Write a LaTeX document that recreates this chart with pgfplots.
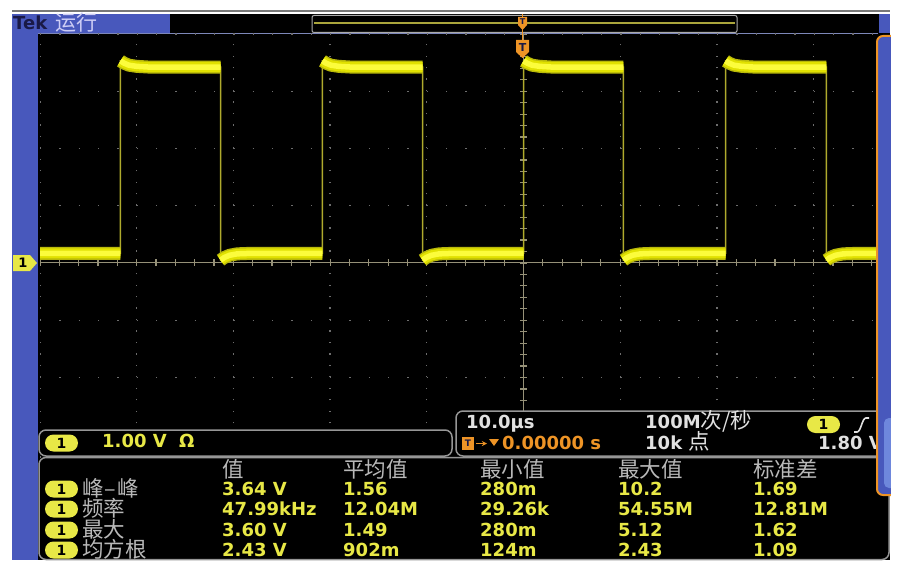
\documentclass[border=0pt]{standalone}
\usepackage{fontspec}
\setmainfont{DejaVu Sans}
\newfontfamily\cjk{Noto Sans CJK SC}
\usepackage{pgfplots}
\pgfplotsset{compat=1.18}
\usepackage{pgfplotstable}

\definecolor{tekyellow}{RGB}{232,232,70}
\definecolor{tekgray}{RGB}{185,185,185}
\definecolor{tekwhite}{RGB}{225,225,225}
\definecolor{tekblue}{RGB}{72,88,188}
\definecolor{teklight}{RGB}{110,135,220}
\definecolor{tekorange}{RGB}{238,148,38}
\definecolor{tekdark}{RGB}{25,25,70}
\definecolor{teklav}{RGB}{205,205,245}
\definecolor{boxgray}{RGB}{150,150,150}
\definecolor{gridgray}{RGB}{110,110,110}
\definecolor{cline}{RGB}{150,145,120}
\definecolor{edgeol}{RGB}{175,170,45}
\definecolor{bandout}{RGB}{185,185,10}
\definecolor{bandmid}{RGB}{225,225,0}
\definecolor{bandcore}{RGB}{252,252,60}

\newcommand\tk{\fontsize{18}{18}\selectfont\bfseries}
\newcommand\ck{\cjk\fontsize{21.5}{21.5}\selectfont\mdseries}
\newcommand\one{\fontsize{14}{14}\selectfont\bfseries\color{black}1}

% square-wave levels (V) vs time (microseconds); nan breaks the bands at the edges
\pgfplotstableread{
t v
-50 0.17
-41.68 0.17
-41.6 nan
-41.68 3.53
-41.30 3.49
-40.80 3.455
-40.00 3.435
-38.50 3.42
-31.33 3.42
-31.3 nan
-31.33 0.05
-30.95 0.095
-30.40 0.135
-29.60 0.16
-28.00 0.17
-20.79 0.17
-20.7 nan
-20.79 3.53
-20.41 3.49
-19.91 3.455
-19.11 3.435
-17.61 3.42
-10.44 3.42
-10.4 nan
-10.44 0.05
-10.06 0.095
-9.51 0.135
-8.71 0.16
-7.11 0.17
0 0.17
0.05 nan
0 3.53
0.38 3.49
0.88 3.455
1.68 3.435
3.18 3.42
10.34 3.42
10.4 nan
10.34 0.05
10.72 0.095
11.27 0.135
12.07 0.16
13.67 0.17
20.89 0.17
20.95 nan
20.89 3.53
21.27 3.49
21.77 3.455
22.57 3.435
24.07 3.42
31.33 3.42
31.4 nan
31.33 0.05
31.71 0.095
32.26 0.135
33.06 0.16
34.66 0.17
36.70 0.17
}\band

\pgfplotstableread{
t v
-50 0.17
-41.68 0.17
-41.68 3.53
-31.33 3.42
-31.33 0.05
-20.79 0.17
-20.79 3.53
-10.44 3.42
-10.44 0.05
0 0.17
0 3.53
10.34 3.42
10.34 0.05
20.89 0.17
20.89 3.53
31.33 3.42
31.33 0.05
36.70 0.17
}\edges

\begin{document}
\begin{tikzpicture}
% ---------- background / frame ----------
\begin{scope}[x=1pt,y=-1pt]
\path[use as bounding box] (0,0) rectangle (899,567);
\fill[white] (0,0) rectangle (899,567);
\fill[black] (12,14) rectangle (890,560);
\draw[color={rgb,255:red,120;green,120;blue,120}, line width=2.5pt] (12,11) -- (890,11);
\fill[tekblue] (12,14) rectangle (38,560);
\fill[tekblue] (12,14) rectangle (170,33);
\node[anchor=base west, inner sep=0, text=tekdark] at (13,30) {\tk Tek};
\node[anchor=base west, inner sep=0, text=teklav] at (55,30.5) {\cjk\fontsize{21}{21}\selectfont 运行};
% record view
\draw[color={rgb,255:red,170;green,170;blue,170}, line width=1pt, rounded corners=2pt] (312,15.5) rectangle (737,32.5);
\draw[color={rgb,255:red,170;green,165;blue,60}, line width=1.5pt] (314,23) -- (735,23);
\draw[color={rgb,255:red,125;green,135;blue,185}, line width=1pt] (38,33.5) -- (878,33.5);
\fill[tekblue] (879,14) rectangle (890,33);
\end{scope}

% ---------- graticule and trace ----------
\begin{axis}[
  at={(40pt,-34pt)}, anchor=north west,
  width=838pt, height=458pt, scale only axis,
  xmin=-50, xmax=36.66, ymin=-4, ymax=4,
  axis line style={draw=none}, ticks=none,
  unbounded coords=jump,
]
\pgfplotsinvokeforeach{-50,-40,-30,-20,-10,10,20,30}{
  \draw[gridgray, line width=1.3pt, dash pattern=on 1.3pt off 10.15pt] (axis cs:#1,-4) -- (axis cs:#1,4);
}
\pgfplotsinvokeforeach{-4,-3,-2,-1,1,2,3,4}{
  \draw[gridgray, line width=1.3pt, dash pattern=on 1.3pt off 18.04pt] (axis cs:-50,#1) -- (axis cs:36.66,#1);
}
\draw[cline, line width=1pt] (axis cs:0,-4) -- (axis cs:0,4);
\draw[cline, line width=7pt, dash pattern=on 1.2pt off 10.25pt, dash phase=0.6pt] (axis cs:0,-4) -- (axis cs:0,4);
\draw[cline, line width=1pt] (axis cs:-50,0) -- (axis cs:36.66,0);
\draw[cline, line width=7pt, dash pattern=on 1.2pt off 18.14pt, dash phase=0.6pt] (axis cs:-50,0) -- (axis cs:36.66,0);

\addplot[edgeol, line width=1.5pt, mark=none] table[x=t, y=v] {\edges};
\addplot[bandout, line width=13pt, line join=round, mark=none] table[x=t, y=v] {\band};
\addplot[bandmid, line width=10pt, line join=round, mark=none] table[x=t, y=v] {\band};
\addplot[bandcore, line width=5.5pt, line join=round, mark=none] table[x=t, y=v] {\band};
\end{axis}

% ---------- overlays ----------
\begin{scope}[x=1pt,y=-1pt]
% trigger markers
\draw[tekorange, line width=1pt] (522.5,14) -- (522.5,40);
\fill[tekorange] (518,17) -- (527,17) -- (527,25) -- (522.5,30) -- (518,25) -- cycle;
\node[inner sep=0, text=tekdark] at (522.5,22) {\fontsize{8}{8}\selectfont\bfseries T};
\fill[tekorange] (516,40) -- (529,40) -- (529,52) -- (522.5,58) -- (516,52) -- cycle;
\node[inner sep=0, text=tekdark] at (522.5,47.5) {\fontsize{11}{11}\selectfont\bfseries T};
% channel marker
\fill[tekyellow] (13,255) -- (30,255) -- (37,263) -- (30,271) -- (13,271) -- cycle;
\node[inner sep=0, text=black] at (23,263) {\fontsize{13}{13}\selectfont\bfseries 1};

% channel box
\draw[boxgray, line width=1.5pt, rounded corners=7pt, fill=black] (39,430) rectangle (452,456);
\node[fill=tekyellow, rounded corners=8.5pt, minimum width=33pt, minimum height=17pt, inner sep=0] at (61.5,443) {\one};
\node[anchor=base west, inner sep=0, text=tekyellow] at (102,447.5) {\tk 1.00 V};
\node[anchor=base west, inner sep=0, text=tekyellow] at (179,447.5) {\tk Ω};

% timebase box
\draw[boxgray, line width=1.5pt, rounded corners=7pt, fill=black] (456,411) rectangle (896,456);
\node[anchor=base west, inner sep=0, text=tekwhite] at (466,428) {\tk 10.0µs};
\node[anchor=base west, inner sep=0, text=tekwhite] at (645,428) {\tk 100M{\ck 次/秒}};
\node[fill=tekyellow, rounded corners=8.5pt, minimum width=33pt, minimum height=17pt, inner sep=0] at (823.5,424.5) {\one};
\draw[tekwhite, line width=1.6pt] (854,432) -- (857,432) .. controls (861,432) and (862,418) .. (866,418) -- (869,418);
\fill[tekorange] (462,437) rectangle (474,450);
\node[inner sep=0, text=tekdark] at (468,443.5) {\fontsize{9}{9}\selectfont\bfseries T};
\draw[tekorange, line width=1.3pt, -stealth] (476,443.5) -- (487,443.5);
\fill[tekorange] (489,439) -- (499,439) -- (494,446) -- cycle;
\node[anchor=base west, inner sep=0, text=tekorange] at (502,449) {\tk 0.00000 s};
\node[anchor=base west, inner sep=0, text=tekwhite] at (645,449) {\tk 10k {\ck 点}};
\node[anchor=base west, inner sep=0, text=tekwhite] at (818,449) {\tk 1.80 V};

% measurement box
\draw[boxgray, line width=1.5pt, rounded corners=7pt, fill=black] (39,457.5) rectangle (889,559.5);
\node[anchor=base west, inner sep=0, text=tekgray] at (222,477) {\ck 值};
\node[anchor=base west, inner sep=0, text=tekgray] at (343,477) {\ck 平均值};
\node[anchor=base west, inner sep=0, text=tekgray] at (480,477) {\ck 最小值};
\node[anchor=base west, inner sep=0, text=tekgray] at (618,477) {\ck 最大值};
\node[anchor=base west, inner sep=0, text=tekgray] at (753,477) {\ck 标准差};

\foreach \yy/\lab/\a/\b/\c/\d/\e in {
  489/峰{\kern1pt–\kern1pt}峰/3.64 V/1.56/280m/10.2/1.69,
  509/频率/47.99kHz/12.04M/29.26k/54.55M/12.81M,
  530/最大/3.60 V/1.49/280m/5.12/1.62,
  550/均方根/2.43 V/902m/124m/2.43/1.09}{
  \node[fill=tekyellow, rounded corners=8.5pt, minimum width=33pt, minimum height=17pt, inner sep=0] at (61.5,\yy) {\one};
  \node[anchor=base west, inner sep=0, text=tekgray] at (82,\yy+7.5) {\ck \lab};
  \node[anchor=base west, inner sep=0, text=tekyellow] at (222,\yy+6.5) {\tk \a};
  \node[anchor=base west, inner sep=0, text=tekyellow] at (343,\yy+6.5) {\tk \b};
  \node[anchor=base west, inner sep=0, text=tekyellow] at (480,\yy+6.5) {\tk \c};
  \node[anchor=base west, inner sep=0, text=tekyellow] at (618,\yy+6.5) {\tk \d};
  \node[anchor=base west, inner sep=0, text=tekyellow] at (753,\yy+6.5) {\tk \e};
}

% right side panel
\draw[tekorange, line width=2pt, fill=tekblue, rounded corners=6pt] (877,36) rectangle (898,495);
\fill[teklight, rounded corners=5pt] (884,418) rectangle (898,488);
% white page margins
\fill[white] (890.5,0) rectangle (899,567);
\fill[white] (0,560.5) rectangle (899,567);
\end{scope}
\end{tikzpicture}
\end{document}
